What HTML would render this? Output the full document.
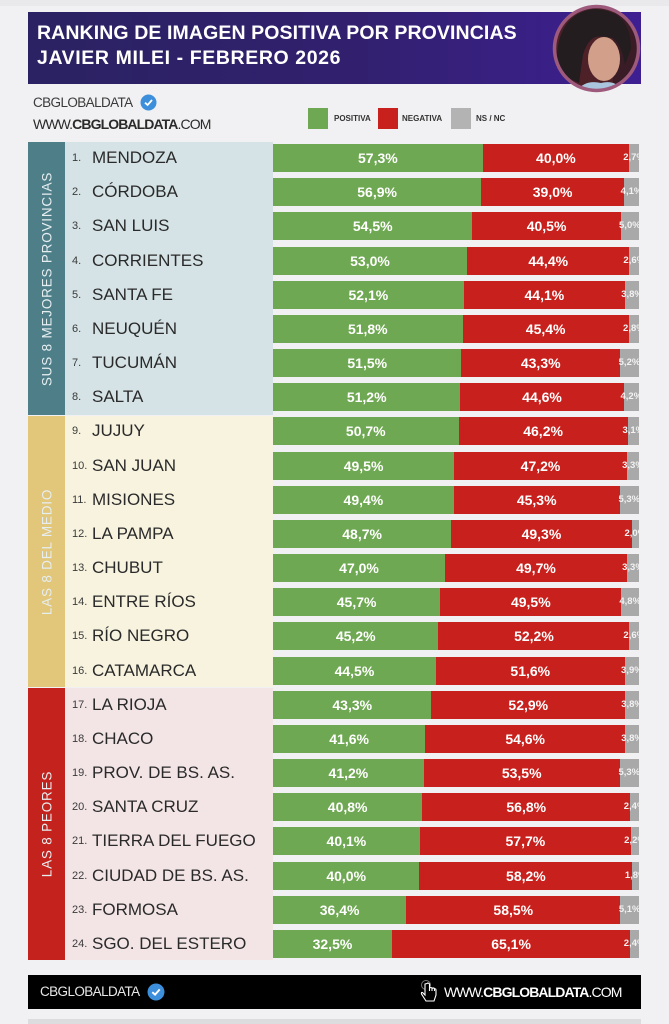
<!DOCTYPE html>
<html><head><meta charset="utf-8">
<style>
*{margin:0;padding:0;box-sizing:border-box}
html,body{width:669px;height:1024px;overflow:hidden;background:#f1f1f3;font-family:"Liberation Sans",Arial,sans-serif;}
.abs{position:absolute}
.title{left:28px;top:12px;width:613px;height:72px;background:linear-gradient(90deg,#2a2262 0%,#32206f 55%,#3d1f92 100%);}
.t1,.t2{position:absolute;left:9px;color:#fff;font-weight:bold;font-size:19.5px;white-space:nowrap;letter-spacing:0.1px}
.t1{top:10px}.t2{top:35px;letter-spacing:0.6px}
.lab{left:65px;width:208px}
.band{left:28px;width:37px}
.vt{position:absolute;left:50%;top:50%;transform:translate(-50%,-50%) rotate(-90deg);white-space:nowrap;color:#e6eef0;font-size:13.5px;letter-spacing:0.8px}
.num{position:absolute;left:72px;font-size:11px;color:#3a3a3a;line-height:28px}
.nm{position:absolute;left:92px;font-size:17px;color:#2a2a2a;line-height:28px;white-space:nowrap}
.bar{position:absolute;left:273px;width:366px;height:28px;display:flex;overflow:hidden}
.bar div{height:28px;line-height:28px;text-align:center;color:#fff;font-weight:bold;font-size:14px;white-space:nowrap;display:flex;justify-content:center;overflow:visible}
.g{background:#6fa852}.r{background:#c8201c}.y{background:#a9a9a9;font-size:9.5px!important;color:#f2f2f2!important}
.leg{top:108px;width:20px;height:21px}
.legt{top:114px;font-size:8px;font-weight:bold;color:#333}
</style></head><body>

<div class="abs" style="left:0;top:0;width:669px;height:6px;background:#e9e9eb"></div>

<div class="abs title">
  <div class="t1">RANKING DE IMAGEN POSITIVA POR PROVINCIAS</div>
  <div class="t2">JAVIER MILEI - FEBRERO 2026</div>
</div>

<svg class="abs" style="left:551px;top:3px" width="91" height="91" viewBox="0 0 91 91">
  <defs><clipPath id="c"><circle cx="45.5" cy="45.5" r="42"/></clipPath></defs>
  <g clip-path="url(#c)">
    <rect width="91" height="91" fill="#4e2129"/>
    <rect x="62" y="0" width="29" height="91" fill="#3a1c26"/>
    <path d="M6 70 Q2 12 42 6 Q80 6 80 46 L74 62 Q70 36 56 32 Q38 30 32 52 L28 80 Z" fill="#241d20"/>
    <ellipse cx="53" cy="56" rx="16" ry="22" fill="#d2a08a"/>
    <path d="M32 46 Q38 26 70 38 Q60 28 48 28 Q36 30 32 46Z" fill="#241d20"/>
    <path d="M24 91 Q32 76 50 80 Q66 76 74 91Z" fill="#a9c6de"/>
  </g>
  <circle cx="45.5" cy="45.5" r="42" fill="none" stroke="#9e5a7c" stroke-width="3.5"/>
</svg>

<div class="abs" style="left:33px;top:95px;font-size:13.5px;color:#3a3a3a;letter-spacing:-0.6px">CBGLOBALDATA</div>
<svg class="abs" style="left:140px;top:94px" width="17" height="17" viewBox="0 0 17 17"><circle cx="8.5" cy="8.5" r="8" fill="#3d8fdc"/><path d="M5 8.7 L7.6 11 L12 6" stroke="#fff" stroke-width="1.8" fill="none"/></svg>
<div class="abs" style="left:33px;top:116px;font-size:14px;color:#2a2a2a;letter-spacing:-0.9px;white-space:nowrap">WWW.<b>CBGLOBALDATA</b>.COM</div>

<div class="abs leg" style="left:308px;background:#6fa852"></div>
<div class="abs legt" style="left:334px">POSITIVA</div>
<div class="abs leg" style="left:378px;background:#c8201c"></div>
<div class="abs legt" style="left:402px">NEGATIVA</div>
<div class="abs leg" style="left:451px;background:#b3b3b3"></div>
<div class="abs legt" style="left:476px">NS / NC</div>

<div class="abs band" style="top:142px;height:273px;background:#4e7f89"><div class="vt">SUS 8 MEJORES PROVINCIAS</div></div>
<div class="abs lab" style="top:142px;height:273px;background:#d5e3e6"></div>
<div class="abs band" style="top:416px;height:271px;background:#e2c67a"><div class="vt">LAS 8 DEL MEDIO</div></div>
<div class="abs lab" style="top:416px;height:271px;background:#f7f3df"></div>
<div class="abs band" style="top:688px;height:272px;background:#c4221d"><div class="vt">LAS 8 PEORES</div></div>
<div class="abs lab" style="top:688px;height:272px;background:#f3e5e6"></div>

<div class="num" style="top:144px">1.</div><div class="nm" style="top:144px">MENDOZA</div>
<div class="bar" style="top:144px"><div class="g" style="width:57.3%">57,3%</div><div class="r" style="width:40.0%">40,0%</div><div class="y" style="width:2.7%">2,7%</div></div>

<div class="num" style="top:178px">2.</div><div class="nm" style="top:178px">CÓRDOBA</div>
<div class="bar" style="top:178px"><div class="g" style="width:56.9%">56,9%</div><div class="r" style="width:39.0%">39,0%</div><div class="y" style="width:4.1%">4,1%</div></div>

<div class="num" style="top:212px">3.</div><div class="nm" style="top:212px">SAN LUIS</div>
<div class="bar" style="top:212px"><div class="g" style="width:54.5%">54,5%</div><div class="r" style="width:40.5%">40,5%</div><div class="y" style="width:5.0%">5,0%</div></div>

<div class="num" style="top:247px">4.</div><div class="nm" style="top:247px">CORRIENTES</div>
<div class="bar" style="top:247px"><div class="g" style="width:53.0%">53,0%</div><div class="r" style="width:44.4%">44,4%</div><div class="y" style="width:2.6%">2,6%</div></div>

<div class="num" style="top:281px">5.</div><div class="nm" style="top:281px">SANTA FE</div>
<div class="bar" style="top:281px"><div class="g" style="width:52.1%">52,1%</div><div class="r" style="width:44.1%">44,1%</div><div class="y" style="width:3.8%">3,8%</div></div>

<div class="num" style="top:315px">6.</div><div class="nm" style="top:315px">NEUQUÉN</div>
<div class="bar" style="top:315px"><div class="g" style="width:51.8%">51,8%</div><div class="r" style="width:45.4%">45,4%</div><div class="y" style="width:2.8%">2,8%</div></div>

<div class="num" style="top:349px">7.</div><div class="nm" style="top:349px">TUCUMÁN</div>
<div class="bar" style="top:349px"><div class="g" style="width:51.5%">51,5%</div><div class="r" style="width:43.3%">43,3%</div><div class="y" style="width:5.2%">5,2%</div></div>

<div class="num" style="top:383px">8.</div><div class="nm" style="top:383px">SALTA</div>
<div class="bar" style="top:383px"><div class="g" style="width:51.2%">51,2%</div><div class="r" style="width:44.6%">44,6%</div><div class="y" style="width:4.2%">4,2%</div></div>

<div class="num" style="top:417px">9.</div><div class="nm" style="top:417px">JUJUY</div>
<div class="bar" style="top:417px"><div class="g" style="width:50.7%">50,7%</div><div class="r" style="width:46.2%">46,2%</div><div class="y" style="width:3.1%">3,1%</div></div>

<div class="num" style="top:452px">10.</div><div class="nm" style="top:452px">SAN JUAN</div>
<div class="bar" style="top:452px"><div class="g" style="width:49.5%">49,5%</div><div class="r" style="width:47.2%">47,2%</div><div class="y" style="width:3.3%">3,3%</div></div>

<div class="num" style="top:486px">11.</div><div class="nm" style="top:486px">MISIONES</div>
<div class="bar" style="top:486px"><div class="g" style="width:49.4%">49,4%</div><div class="r" style="width:45.3%">45,3%</div><div class="y" style="width:5.3%">5,3%</div></div>

<div class="num" style="top:520px">12.</div><div class="nm" style="top:520px">LA PAMPA</div>
<div class="bar" style="top:520px"><div class="g" style="width:48.7%">48,7%</div><div class="r" style="width:49.3%">49,3%</div><div class="y" style="width:2.0%">2,0%</div></div>

<div class="num" style="top:554px">13.</div><div class="nm" style="top:554px">CHUBUT</div>
<div class="bar" style="top:554px"><div class="g" style="width:47.0%">47,0%</div><div class="r" style="width:49.7%">49,7%</div><div class="y" style="width:3.3%">3,3%</div></div>

<div class="num" style="top:588px">14.</div><div class="nm" style="top:588px">ENTRE RÍOS</div>
<div class="bar" style="top:588px"><div class="g" style="width:45.7%">45,7%</div><div class="r" style="width:49.5%">49,5%</div><div class="y" style="width:4.8%">4,8%</div></div>

<div class="num" style="top:622px">15.</div><div class="nm" style="top:622px">RÍO NEGRO</div>
<div class="bar" style="top:622px"><div class="g" style="width:45.2%">45,2%</div><div class="r" style="width:52.2%">52,2%</div><div class="y" style="width:2.6%">2,6%</div></div>

<div class="num" style="top:657px">16.</div><div class="nm" style="top:657px">CATAMARCA</div>
<div class="bar" style="top:657px"><div class="g" style="width:44.5%">44,5%</div><div class="r" style="width:51.6%">51,6%</div><div class="y" style="width:3.9%">3,9%</div></div>

<div class="num" style="top:691px">17.</div><div class="nm" style="top:691px">LA RIOJA</div>
<div class="bar" style="top:691px"><div class="g" style="width:43.3%">43,3%</div><div class="r" style="width:52.9%">52,9%</div><div class="y" style="width:3.8%">3,8%</div></div>

<div class="num" style="top:725px">18.</div><div class="nm" style="top:725px">CHACO</div>
<div class="bar" style="top:725px"><div class="g" style="width:41.6%">41,6%</div><div class="r" style="width:54.6%">54,6%</div><div class="y" style="width:3.8%">3,8%</div></div>

<div class="num" style="top:759px">19.</div><div class="nm" style="top:759px">PROV. DE BS. AS.</div>
<div class="bar" style="top:759px"><div class="g" style="width:41.2%">41,2%</div><div class="r" style="width:53.5%">53,5%</div><div class="y" style="width:5.3%">5,3%</div></div>

<div class="num" style="top:793px">20.</div><div class="nm" style="top:793px">SANTA CRUZ</div>
<div class="bar" style="top:793px"><div class="g" style="width:40.8%">40,8%</div><div class="r" style="width:56.8%">56,8%</div><div class="y" style="width:2.4%">2,4%</div></div>

<div class="num" style="top:827px">21.</div><div class="nm" style="top:827px">TIERRA DEL FUEGO</div>
<div class="bar" style="top:827px"><div class="g" style="width:40.1%">40,1%</div><div class="r" style="width:57.7%">57,7%</div><div class="y" style="width:2.2%">2,2%</div></div>

<div class="num" style="top:862px">22.</div><div class="nm" style="top:862px">CIUDAD DE BS. AS.</div>
<div class="bar" style="top:862px"><div class="g" style="width:40.0%">40,0%</div><div class="r" style="width:58.2%">58,2%</div><div class="y" style="width:1.8%">1,8%</div></div>

<div class="num" style="top:896px">23.</div><div class="nm" style="top:896px">FORMOSA</div>
<div class="bar" style="top:896px"><div class="g" style="width:36.4%">36,4%</div><div class="r" style="width:58.5%">58,5%</div><div class="y" style="width:5.1%">5,1%</div></div>

<div class="num" style="top:930px">24.</div><div class="nm" style="top:930px">SGO. DEL ESTERO</div>
<div class="bar" style="top:930px"><div class="g" style="width:32.5%">32,5%</div><div class="r" style="width:65.1%">65,1%</div><div class="y" style="width:2.4%">2,4%</div></div>

<div class="abs" style="left:28px;top:975px;width:613px;height:34px;background:#000"></div>
<div class="abs" style="left:40px;top:984px;font-size:13.5px;color:#e8e8e8;letter-spacing:-0.6px">CBGLOBALDATA</div>
<svg class="abs" style="left:147px;top:983px" width="18" height="18" viewBox="0 0 17 17"><circle cx="8.5" cy="8.5" r="8" fill="#3d8fdc"/><path d="M5 8.7 L7.6 11 L12 6" stroke="#fff" stroke-width="1.8" fill="none"/></svg>
<svg class="abs" style="left:419px;top:979px" width="20" height="26" viewBox="0 0 20 26"><circle cx="7" cy="6" r="4.5" fill="none" stroke="#777" stroke-width="1"/><path d="M6 5 V16 L3.5 13.5 Q2 13 2.5 15 L7 22 H15 L17 16 V11 Q17 9.5 15.5 9.8 V12 V9.5 Q14 8.5 13 9.5 V12 V9 Q11.5 8 10.5 9.2 V12 V5 Q9 3.5 8 4.5 Z" fill="#000" stroke="#fff" stroke-width="1.1"/></svg>
<div class="abs" style="left:444px;top:984px;font-size:14px;color:#fff;letter-spacing:-0.9px;white-space:nowrap">WWW.<b>CBGLOBALDATA</b>.COM</div>

<div class="abs" style="left:28px;top:1019px;width:613px;height:5px;background:#dcdcde"></div>
</body></html>
